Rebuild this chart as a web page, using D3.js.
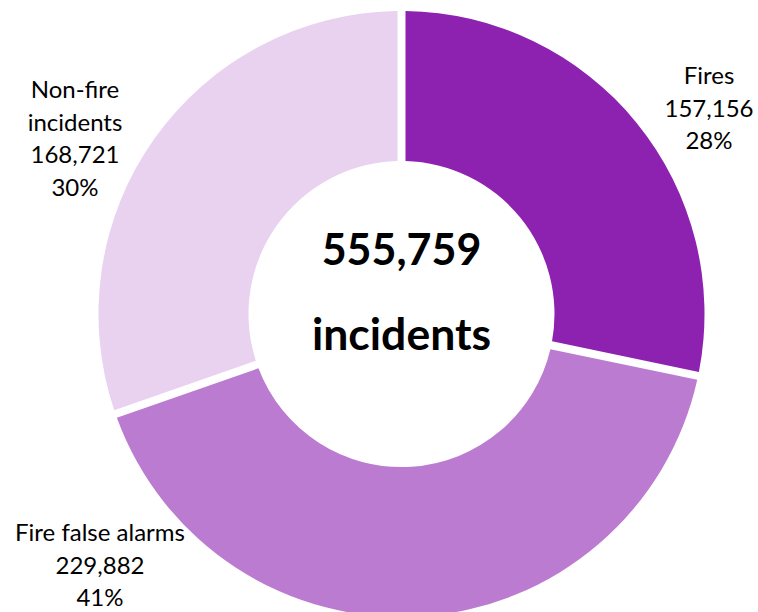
<!DOCTYPE html>
<html>
<head>
<meta charset="utf-8">
<script src="https://cdn.jsdelivr.net/npm/d3@7"></script>
<style>
  body { margin: 0; background: #fff; }
  text { font-family: Lato, "Open Sans", sans-serif; fill: #000; }
</style>
</head>
<body>
<div id="chart"></div>
<script>
const categories = ['Fires', 'Fire false alarms', 'Non-fire incidents'];
const values = [157156, 229882, 168721];
const colors = ['#8d22b0', '#bb7bd0', '#e8d2f0'];
const centerLines = [d3.format(',')(d3.sum(values)), 'incidents'];

// label text lines per category (name may wrap)
const labelNames = [['Fires'], ['Fire false alarms'], ['Non-fire', 'incidents']];
// where each label block sits (centre x, first baseline y)
const labelAnchor = [[709, 84], [100, 541], [75, 98]];

let width = 758,
    height = 612,
    cx = 401.5,
    cy = 314,
    outerR = 303,
    innerR = 153,
    gap = 8,
    lineH = 32.5;

const svg = d3.select('#chart').append('svg')
    .attr('width', width)
    .attr('height', height);

const total = d3.sum(values);
const pie = d3.pie().sort(null).value(function(d) { return d; });
const arc = d3.arc()
    .innerRadius(innerR)
    .outerRadius(outerR)
    .padRadius(outerR)
    .padAngle(gap / outerR);

const g = svg.append('g')
    .attr('transform', 'translate(' + cx + ',' + cy + ')');

g.selectAll('.slice')
    .data(pie(values))
    .enter().append('path')
    .attr('class', 'slice')
    .attr('d', arc)
    .style('fill', function(d, i) { return colors[i]; });

// centre total
g.selectAll('.center')
    .data(centerLines)
    .enter().append('text')
    .attr('class', 'center')
    .attr('text-anchor', 'middle')
    .attr('x', 0)
    .attr('y', function(d, i) { return i === 0 ? -49 : 36; })
    .style('font-weight', 'bold')
    .style('font-size', function(d, i) { return i === 0 ? '43px' : '44.5px'; })
    .text(function(d) { return d; });

// data labels
const pct = d3.format('.0%');
categories.forEach(function(c, i) {
    const lines = labelNames[i].concat([d3.format(',')(values[i]), pct(values[i] / total)]);
    svg.append('g')
        .attr('class', 'label')
        .selectAll('text')
        .data(lines)
        .enter().append('text')
        .attr('text-anchor', 'middle')
        .attr('x', labelAnchor[i][0])
        .attr('y', function(d, j) { return labelAnchor[i][1] + j * lineH; })
        .style('font-size', '24px')
        .text(function(d) { return d; });
});
</script>
</body>
</html>
